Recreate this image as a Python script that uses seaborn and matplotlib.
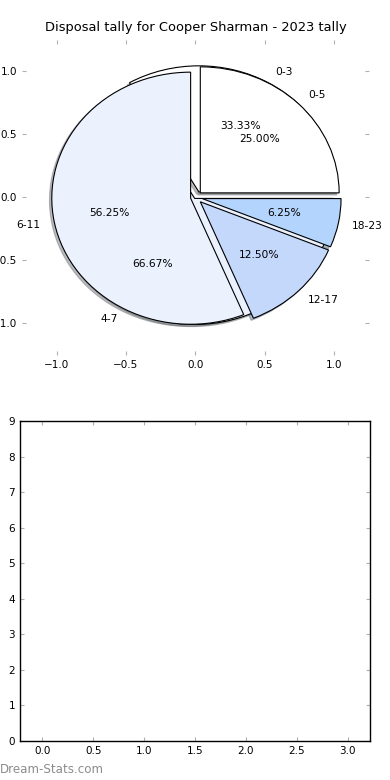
import matplotlib
matplotlib.use("Agg")
import matplotlib.pyplot as plt
import seaborn as sns

# disposal buckets (first pie: 4-wide, second pie: 6-wide)
labels_a = ['0-3', '4-7']
share_a = [33.33, 66.67]
labels_b = ['0-5', '6-11', '12-17', '18-23']
share_b = [25.00, 56.25, 12.50, 6.25]

colors_a = ['#ffffff', '#ebf2fe']
colors_b = ['#ffffff', '#ebf2fe', '#c4d8fc', '#b3d4fc']

sns.set_style("white", {
    "xtick.direction": "in", "ytick.direction": "in",
    "xtick.color": "#b0b0b0", "ytick.color": "#b0b0b0",
    "axes.edgecolor": "black", "text.color": "black",
})
plt.rcParams['font.family'] = ['DejaVu Sans']
plt.rcParams['text.color'] = 'black'
plt.rcParams['xtick.labelcolor'] = 'black'
plt.rcParams['ytick.labelcolor'] = 'black'
plt.rcParams['xtick.labelsize'] = 7.5
plt.rcParams['ytick.labelsize'] = 7.5
plt.rcParams['xtick.major.size'] = 3
plt.rcParams['ytick.major.size'] = 3
plt.rcParams['xtick.top'] = True
plt.rcParams['ytick.right'] = True
plt.rcParams['xtick.bottom'] = True
plt.rcParams['ytick.left'] = True

fig = plt.figure(figsize=(3.9, 7.8), dpi=100)
ax1 = fig.add_axes([0.056, 0.545, 0.89, 0.404])
ax2 = fig.add_axes([0.051, 0.05, 0.898, 0.41])

wp = {'edgecolor': 'black', 'linewidth': 0.8}
tp = {'fontsize': 7.7, 'color': 'black'}
sh = {'ox': -0.012, 'oy': -0.012, 'shade': 0.5}
ax1.pie(share_a, labels=labels_a, colors=colors_a, explode=[0.05, 0.01],
        autopct='%.2f%%', shadow=sh, wedgeprops=wp, textprops=tp)
ax1.pie(share_b, labels=labels_b, colors=colors_b, explode=[0.05, 0.035, 0.05, 0.05],
        autopct='%.2f%%', shadow=sh, wedgeprops=wp, textprops=tp)
ax1.set_aspect('auto')
ax1.set_frame_on(False)
ax1.set_xlim(-1.25, 1.25)
ax1.set_ylim(-1.25, 1.25)
ax1.set_xticks([-1.0, -0.5, 0.0, 0.5, 1.0])
ax1.set_yticks([-1.0, -0.5, 0.0, 0.5, 1.0])
ax1.set_title('Disposal tally for Cooper Sharman - 2023 tally', fontsize=9.4, color='black')

ax2.set_xlim(-0.22, 3.22)
ax2.set_ylim(0, 9)
ax2.set_xticks([0.0, 0.5, 1.0, 1.5, 2.0, 2.5, 3.0])
ax2.set_yticks(range(10))
for s in ax2.spines.values():
    s.set_color('black')
    s.set_linewidth(1)

fig.text(0.0, 0.013, 'Dream-Stats.com', color='#8c8c8c', fontsize=8.6,
         va='center', ha='left')

fig.savefig('out.png', dpi=100)
